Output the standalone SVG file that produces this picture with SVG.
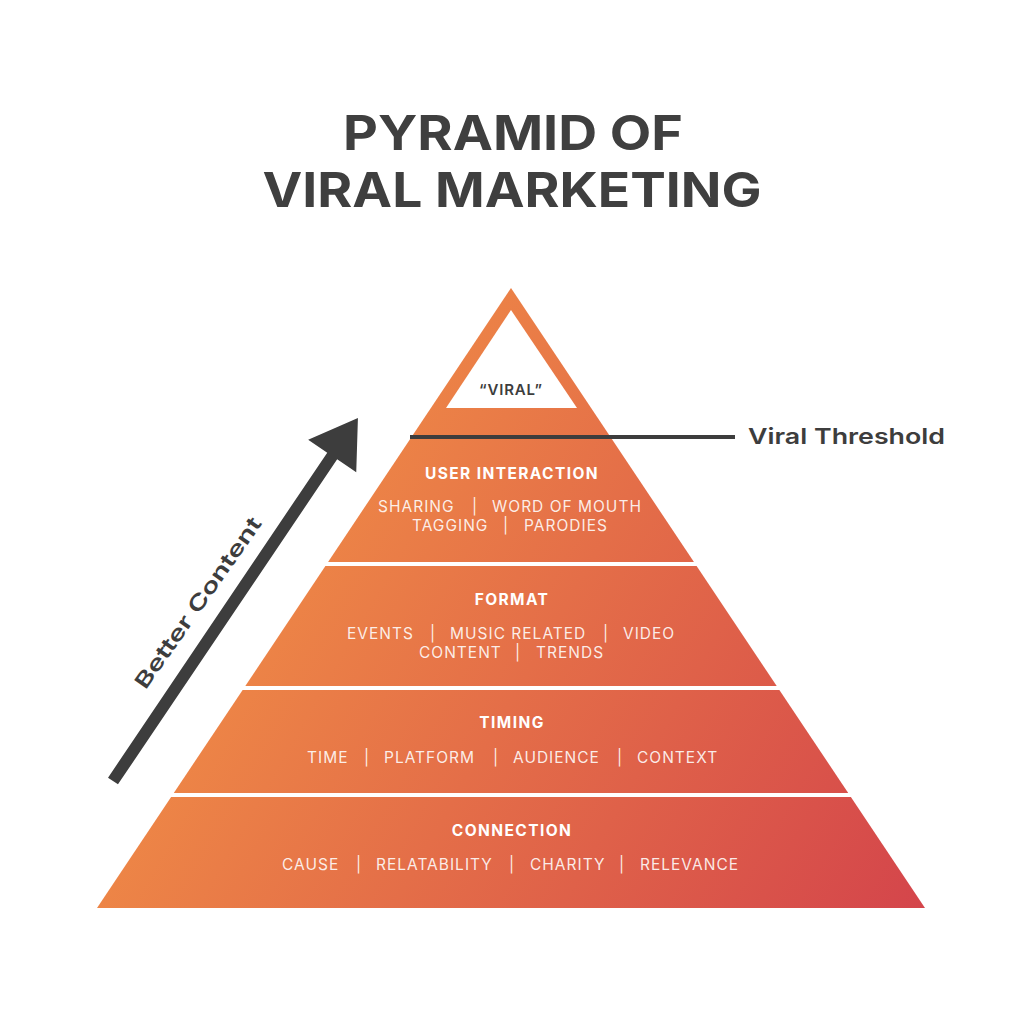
<svg xmlns="http://www.w3.org/2000/svg" width="1024" height="1024" viewBox="0 0 1024 1024">
<defs>
<linearGradient id="pg" gradientUnits="userSpaceOnUse" x1="250" y1="520" x2="925" y2="908">
<stop offset="0" stop-color="#EF8A46"/>
<stop offset="1" stop-color="#D4454B"/>
</linearGradient>
<style>
.title{font-family:Inter,"Noto Sans",sans-serif;font-weight:700;font-size:48px;fill:#3f3f3f;text-anchor:middle}
.dark{font-family:Inter,"Noto Sans",sans-serif;font-weight:600;fill:#3d3d3d}
.hd{font-family:Inter,"Noto Sans",sans-serif;font-weight:700;font-size:15.5px;letter-spacing:1.4px;fill:#ffffff;text-anchor:middle}
.it{font-family:Inter,"Noto Sans",sans-serif;font-weight:400;font-size:15.5px;letter-spacing:1px;fill:#ffffff;fill-opacity:0.88}
.sep{stroke:#ffffff;stroke-width:4}
</style>
</defs>
<rect width="1024" height="1024" fill="#ffffff"/>
<g id="title">
<text class="title" x="513" y="150" textLength="340" lengthAdjust="spacingAndGlyphs">PYRAMID OF</text>
<text class="title" x="512" y="207" textLength="499" lengthAdjust="spacingAndGlyphs">VIRAL MARKETING</text>
</g>
<g id="pyramid">
<polygon points="511,288 925,908 97,908" fill="url(#pg)"/>
<line class="sep" x1="80" y1="564" x2="940" y2="564"/>
<line class="sep" x1="80" y1="688" x2="940" y2="688"/>
<line class="sep" x1="80" y1="795" x2="940" y2="795"/>
</g>
<g id="viral">
<polygon points="511,310 577,408 446,408" fill="#ffffff"/>
<text class="dark" x="511" y="395" font-size="15" font-weight="700" letter-spacing="0.8" text-anchor="middle">“VIRAL”</text>
</g>
<g id="user-interaction">
<text class="hd" x="512" y="479">USER INTERACTION</text>
<text class="it" y="512"><tspan x="378">SHARING</tspan><tspan x="472">|</tspan><tspan x="492">WORD OF MOUTH</tspan></text>
<text class="it" y="531"><tspan x="412">TAGGING</tspan><tspan x="503">|</tspan><tspan x="524">PARODIES</tspan></text>
</g>
<g id="format">
<text class="hd" x="512" y="605">FORMAT</text>
<text class="it" y="639"><tspan x="347">EVENTS</tspan><tspan x="430">|</tspan><tspan x="450">MUSIC RELATED</tspan><tspan x="603">|</tspan><tspan x="623">VIDEO</tspan></text>
<text class="it" y="658"><tspan x="419">CONTENT</tspan><tspan x="515">|</tspan><tspan x="536">TRENDS</tspan></text>
</g>
<g id="timing">
<text class="hd" x="512" y="728">TIMING</text>
<text class="it" y="763"><tspan x="307">TIME</tspan><tspan x="364">|</tspan><tspan x="384">PLATFORM</tspan><tspan x="493">|</tspan><tspan x="513">AUDIENCE</tspan><tspan x="617">|</tspan><tspan x="637">CONTEXT</tspan></text>
</g>
<g id="connection">
<text class="hd" x="512" y="836">CONNECTION</text>
<text class="it" y="870"><tspan x="282">CAUSE</tspan><tspan x="356">|</tspan><tspan x="376">RELATABILITY</tspan><tspan x="509">|</tspan><tspan x="530">CHARITY</tspan><tspan x="619">|</tspan><tspan x="640">RELEVANCE</tspan></text>
</g>
<g id="connectors">
<line x1="410" y1="437" x2="735" y2="437" stroke="#3d3d3d" stroke-width="4"/>
<g transform="translate(113,781) rotate(-56)">
<polygon points="0,-6 392,-6 392,-29 438,0 392,29 392,6 0,6" fill="#3d3d3d"/>
</g>
</g>
<g id="labels">
<text class="dark" x="748" y="444" font-size="22" textLength="197" lengthAdjust="spacingAndGlyphs">Viral Threshold</text>
<text class="dark" font-size="21" text-anchor="middle" textLength="204" lengthAdjust="spacingAndGlyphs" transform="translate(204,607) rotate(-55)">Better Content</text>
</g>
</svg>
